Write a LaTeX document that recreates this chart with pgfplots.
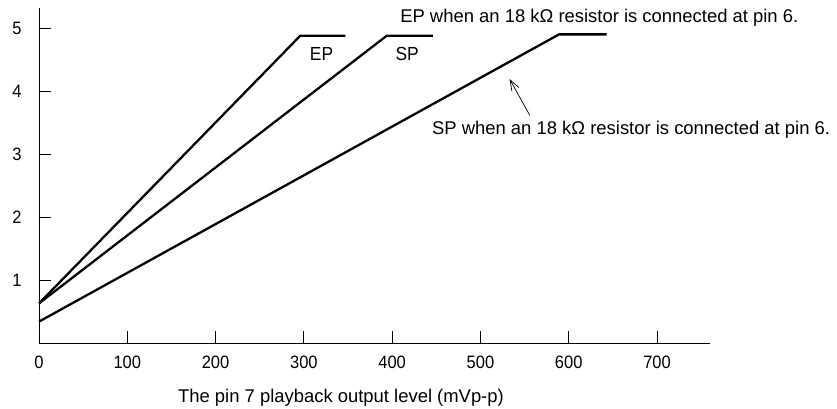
\documentclass[border=0pt]{standalone}
\usepackage{fontspec}
\setmainfont{Liberation Sans}
\newfontfamily\narrowfont[FakeStretch=0.92]{Liberation Sans}
\usepackage{pgfplots}
\pgfplotsset{compat=1.18}
\usetikzlibrary{arrows.meta}

\begin{document}
\begin{tikzpicture}
\useasboundingbox (-39bp,-66bp) rectangle (798bp,343bp);
\begin{axis}[
    scale only axis,
    width=671bp, height=335bp,
    xmin=0, xmax=760,
    ymin=0, ymax=5.33,
    axis lines=left,
    axis line style={line width=1pt, -},
    xtick={0,100,...,700},
    ytick={1,2,3,4,5},
    tick align=inside,
    major tick length=12bp,
    tick style={line width=0.9pt, black},
    font=\narrowfont\fontsize{18}{20}\selectfont,
    /pgf/number format/assume math mode=true,
    /pgf/number format/1000 sep={},
    xticklabel style={yshift=-9bp},
    yticklabel style={xshift=-14bp},
    clip=false,
]
% EP
\addplot[black, line width=2.3pt] coordinates {(0,0.63) (296,4.89) (347,4.89)};
% SP
\addplot[black, line width=2.3pt] coordinates {(0,0.63) (394,4.89) (446,4.89)};
% SP with 18 kOhm at pin 6
\addplot[black, line width=2.3pt] coordinates {(0,0.34) (589,4.91) (643,4.91)};

\node[font=\narrowfont\fontsize{19}{21}\selectfont] at (axis cs:320,4.6) {EP};
\node[font=\narrowfont\fontsize{19}{21}\selectfont] at (axis cs:417,4.6) {SP};
\node[anchor=west, inner sep=0pt, font=\fontsize{18.5}{20}\selectfont] at (axis cs:409,5.18) {EP when an 18 kΩ resistor is connected at pin 6.};
\node[anchor=west, inner sep=0pt, font=\fontsize{18.5}{20}\selectfont] at (axis cs:445,3.40) {SP when an 18 kΩ resistor is connected at pin 6.};
\draw[line width=0.7pt, -{Straight Barb[length=11pt, width=8pt]}] (axis cs:556,3.62) -- (axis cs:533,4.2);
\node[font=\fontsize{18.5}{20}\selectfont] at (axis cs:342,-0.87) {The pin 7 playback output level (mVp-p)};
\end{axis}
\end{tikzpicture}
\end{document}
